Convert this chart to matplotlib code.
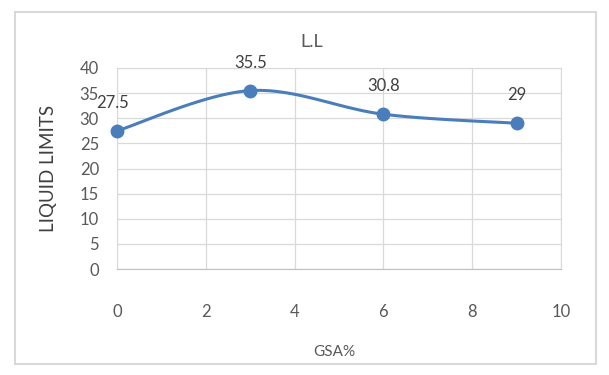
import matplotlib
matplotlib.use("Agg")
from matplotlib import pyplot as plt
from matplotlib.patches import Rectangle
import numpy as np

# data
gsa = [0, 3, 6, 9]
ll = [27.5, 35.5, 30.8, 29]
labels = ["27.5", "35.5", "30.8", "29"]
xticks = [0, 2, 4, 6, 8, 10]
yticks = [0, 5, 10, 15, 20, 25, 30, 35, 40]

plt.rcParams['font.family'] = ['Lato', 'DejaVu Sans']
txt = '#595959'
blue = '#4a7ebb'


def smooth(x, y, n=40):
    # Excel-like smoothed line: cubic bezier segments with catmull-rom control points
    x = np.asarray(x, float)
    y = np.asarray(y, float)
    px = np.concatenate([[x[0]], x, [x[-1]]])
    py = np.concatenate([[y[0]], y, [y[-1]]])
    t = np.linspace(0, 1, n)
    xs, ys = [], []
    for i in range(1, len(px) - 2):
        p0 = np.array([px[i], py[i]])
        p3 = np.array([px[i + 1], py[i + 1]])
        c1 = p0 + (np.array([px[i + 1], py[i + 1]]) - np.array([px[i - 1], py[i - 1]])) / 6
        c2 = p3 - (np.array([px[i + 2], py[i + 2]]) - np.array([px[i], py[i]])) / 6
        b = (np.outer((1 - t) ** 3, p0) + np.outer(3 * (1 - t) ** 2 * t, c1)
             + np.outer(3 * (1 - t) * t ** 2, c2) + np.outer(t ** 3, p3))
        xs.extend(b[:, 0])
        ys.extend(b[:, 1])
    return xs, ys


fig = plt.figure(figsize=(6.09, 3.75), dpi=100)
fig.patches.append(Rectangle((15 / 609, 11 / 375), 581 / 609, 352 / 375, transform=fig.transFigure,
                             fill=False, edgecolor='#d9d9d9', linewidth=1.5))
ax = fig.add_axes([117 / 609, 106 / 375, 444 / 609, 201 / 375])

sx, sy = smooth(gsa, ll)
ax.plot(sx, sy, color=blue, linewidth=2.2, zorder=3, clip_on=False)
ax.plot(gsa, ll, 'o', color=blue, markersize=9, zorder=4, clip_on=False)
for xv, yv, lb in zip(gsa, ll, labels):
    ax.annotate(lb, (xv, yv), xytext=(-3 if xv == 0 else 0, 20), textcoords='offset points',
                ha='center', va='center', fontsize=12, color='#404040')

ax.set_xlim(0, 10)
ax.set_ylim(0, 40)
ax.set_xticks(xticks)
ax.set_yticks(yticks)
ax.grid(True, color='#d9d9d9', linewidth=0.9)
ax.set_axisbelow(True)
for s in ax.spines.values():
    s.set_color('#d9d9d9')
ax.spines['bottom'].set_color('#bfbfbf')
ax.tick_params(length=0, labelsize=12, labelcolor=txt)
ax.tick_params(axis='x', pad=25)
ax.tick_params(axis='y', pad=13)

fig.text(312 / 609, 1 - 42 / 375, 'L.L', fontsize=13, color=txt, ha='center', va='center')
ax.set_xlabel('GSA%', fontsize=11, color=txt, labelpad=18)
ax.xaxis.set_label_coords(0.49, -0.38)
ax.set_ylabel('LIQUID LIMITS', fontsize=13.5, color='#404040', labelpad=16)

fig.savefig('out.png', dpi=100)
